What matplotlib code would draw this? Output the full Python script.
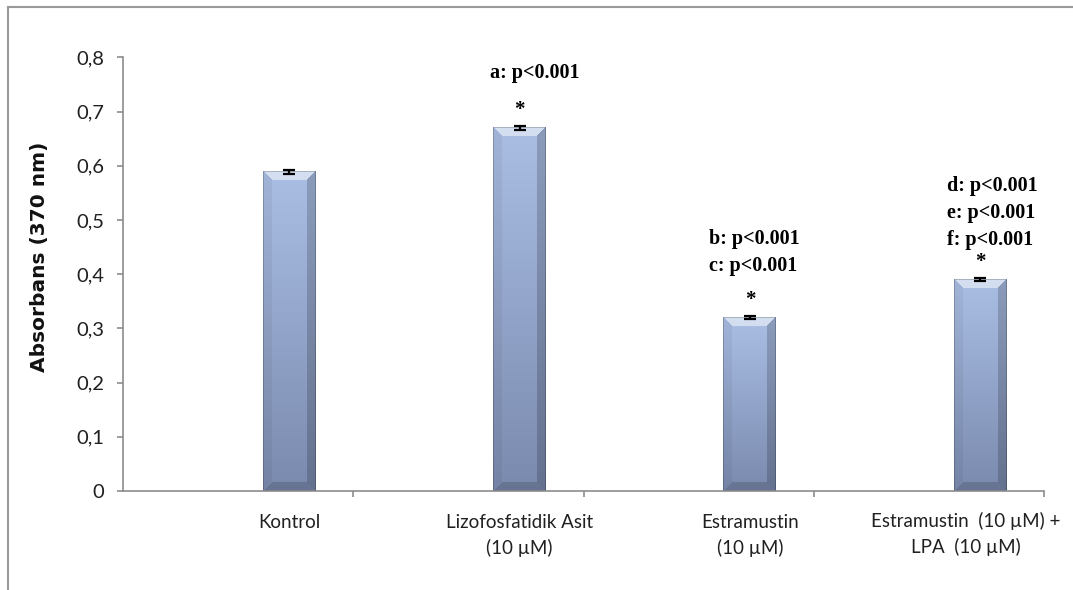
import numpy as np
import matplotlib
matplotlib.use("Agg")
import matplotlib.pyplot as plt
import matplotlib.transforms as mtransforms
from matplotlib.lines import Line2D
from matplotlib.ticker import FixedLocator, FuncFormatter

# --- data ---------------------------------------------------------------
categories = [
    "Kontrol",
    "Lizofosfatidik Asit\n(10 µM)",
    "Estramustin\n(10 µM)",
    "Estramustin  (10 µM) +\nLPA  (10 µM)",
]
absorbance = [0.589, 0.670, 0.320, 0.390]
errors = [0.004, 0.004, 0.003, 0.003]
stars = [False, True, True, True]
p_notes = [
    [],
    ["a: p<0.001"],
    ["b: p<0.001", "c: p<0.001"],
    ["d: p<0.001", "e: p<0.001", "f: p<0.001"],
]
y_ticks = [0, 0.1, 0.2, 0.3, 0.4, 0.5, 0.6, 0.7, 0.8]

W, H = 1073, 590
fig = plt.figure(figsize=(W / 100, H / 100), dpi=100)
fig.patch.set_facecolor("white")

sans = ["Lato", "DejaVu Sans"]
serif = ["Liberation Serif", "DejaVu Serif"]

ax = fig.add_axes([123 / W, 1 - 491 / H, (1044 - 123) / W, (491 - 57.3) / H])
x = np.arange(len(categories))
ax.set_xlim(-0.723, 3.277)
ax.set_ylim(0, 0.8)

bar_w = 0.23
bars = ax.bar(x, absorbance, width=bar_w, color="none", edgecolor="none", zorder=2)

# bevelled, shaded fill for every bar
top_c = np.array([170, 190, 228]) / 255
bot_c = np.array([122, 138, 174]) / 255
fig.canvas.draw()
for b in bars:
    x0, y0 = b.get_x(), b.get_y()
    bw, bh = b.get_width(), b.get_height()
    p0 = ax.transData.transform((x0, y0))
    p1 = ax.transData.transform((x0 + bw, y0 + bh))
    npx = max(int(round(p1[0] - p0[0])), 2)
    npy = max(int(round(p1[1] - p0[1])), 2)
    yy, xx = np.mgrid[0:npy, 0:npx]
    t = 1 - yy / (npy - 1)  # 1 at top, 0 at bottom
    img = bot_c + (top_c - bot_c) * t[..., None]
    bev = 9.0
    d_left = xx + 0.5
    d_right = npx - xx - 0.5
    d_top = yy + 0.5
    d_bot = npy - yy - 0.5
    dmin = np.minimum.reduce([d_left, d_right, d_top, d_bot])
    face = np.argmin(np.stack([d_left, d_right, d_top, d_bot]), axis=0)
    in_bev = dmin < bev
    out = img.copy()
    # top facet lighter, sides and bottom darker
    m = in_bev & (face == 2)
    out[m] = img[m] + (1 - img[m]) * 0.5
    m = in_bev & (face == 0)
    out[m] = img[m] * 0.95
    m = in_bev & (face == 1)
    out[m] = img[m] * 0.82
    m = in_bev & (face == 3)
    out[m] = img[m] * 0.84
    # thin dark rim
    rim = dmin < 1.2
    out[rim] = out[rim] * 0.8
    ax.imshow(np.clip(out, 0, 1), extent=[x0, x0 + bw, y0, y0 + bh],
              aspect="auto", origin="upper", zorder=2, interpolation="bilinear")

ax.set_xlim(-0.723, 3.277)
ax.set_ylim(0, 0.8)

ax.errorbar(x, absorbance, yerr=errors, fmt="none", ecolor="black",
            elinewidth=1.6, capsize=4.2, capthick=1.6, zorder=3)

# axes styling
spine_c = "#8c8c8c"
for s in ["top", "right"]:
    ax.spines[s].set_visible(False)
for s in ["left", "bottom"]:
    ax.spines[s].set_color(spine_c)
    ax.spines[s].set_linewidth(1.2)

ax.yaxis.set_major_locator(FixedLocator(y_ticks))
ax.yaxis.set_major_formatter(FuncFormatter(
    lambda v, _: "0" if abs(v) < 1e-9 else f"{v:.1f}".replace(".", ",")))
ax.tick_params(axis="y", length=4.5, width=1.2, color=spine_c, pad=9,
               labelcolor="#202020")
for lab in ax.get_yticklabels():
    lab.set_family(sans)
    lab.set_fontsize(14.5)

# category boundaries as major ticks, names centred under bars
ax.xaxis.set_major_locator(FixedLocator(x + 0.277))
ax.xaxis.set_major_formatter(FuncFormatter(lambda v, _: ""))
ax.tick_params(axis="x", which="major", direction="out", length=4.5,
               width=1.2, color=spine_c)
ax.set_xticks(x, minor=True)
ax.set_xticklabels(categories, minor=True)
ax.tick_params(axis="x", which="minor", length=0, pad=16.5)
for lab in ax.get_xticklabels(minor=True):
    lab.set_family(sans)
    lab.set_fontsize(13.5)
    lab.set_color("#202020")
    lab.set_linespacing(1.5)
last = ax.get_xticklabels(minor=True)[-1]
last.set_transform(last.get_transform() +
                   mtransforms.ScaledTranslation(-14 / 100, 2 / 100, fig.dpi_scale_trans))

fig.text(40 / W, 1 - 257 / H, "Absorbans (370 nm)", rotation=90,
         ha="center", va="center", fontsize=14.5, fontweight="bold",
         family=["DejaVu Sans"], color="#111111")

# significance marks
note_left = [0, -30, -41, -33]  # px from bar centre
star_gap = 18
line_gap = 27
first_gap = [0, 37, 34, 22]
for i, (val, st, notes) in enumerate(zip(absorbance, stars, p_notes)):
    if st:
        ax.annotate("*", xy=(x[i], val), xytext=(0, star_gap * 0.72),
                    textcoords="offset points", ha="center", va="center",
                    fontsize=15, fontweight="bold", family=serif)
    for k, note in enumerate(reversed(notes)):
        dy = star_gap + first_gap[i] + k * line_gap
        ax.annotate(note, xy=(x[i], val),
                    xytext=(note_left[i] * 0.72, dy * 0.72),
                    textcoords="offset points", ha="left", va="center",
                    fontsize=14.5, fontweight="bold", family=serif)

# chart-area border (clipped by the canvas on the right and bottom)
bc = "#9a9a9a"
fig.add_artist(Line2D([8 / W, 1.01], [1 - 7 / H, 1 - 7 / H],
                      transform=fig.transFigure, color=bc, lw=1.5))
fig.add_artist(Line2D([8 / W, 8 / W], [-0.01, 1 - 7 / H],
                      transform=fig.transFigure, color=bc, lw=1.5))

fig.savefig("out.png", dpi=100, facecolor="white")
